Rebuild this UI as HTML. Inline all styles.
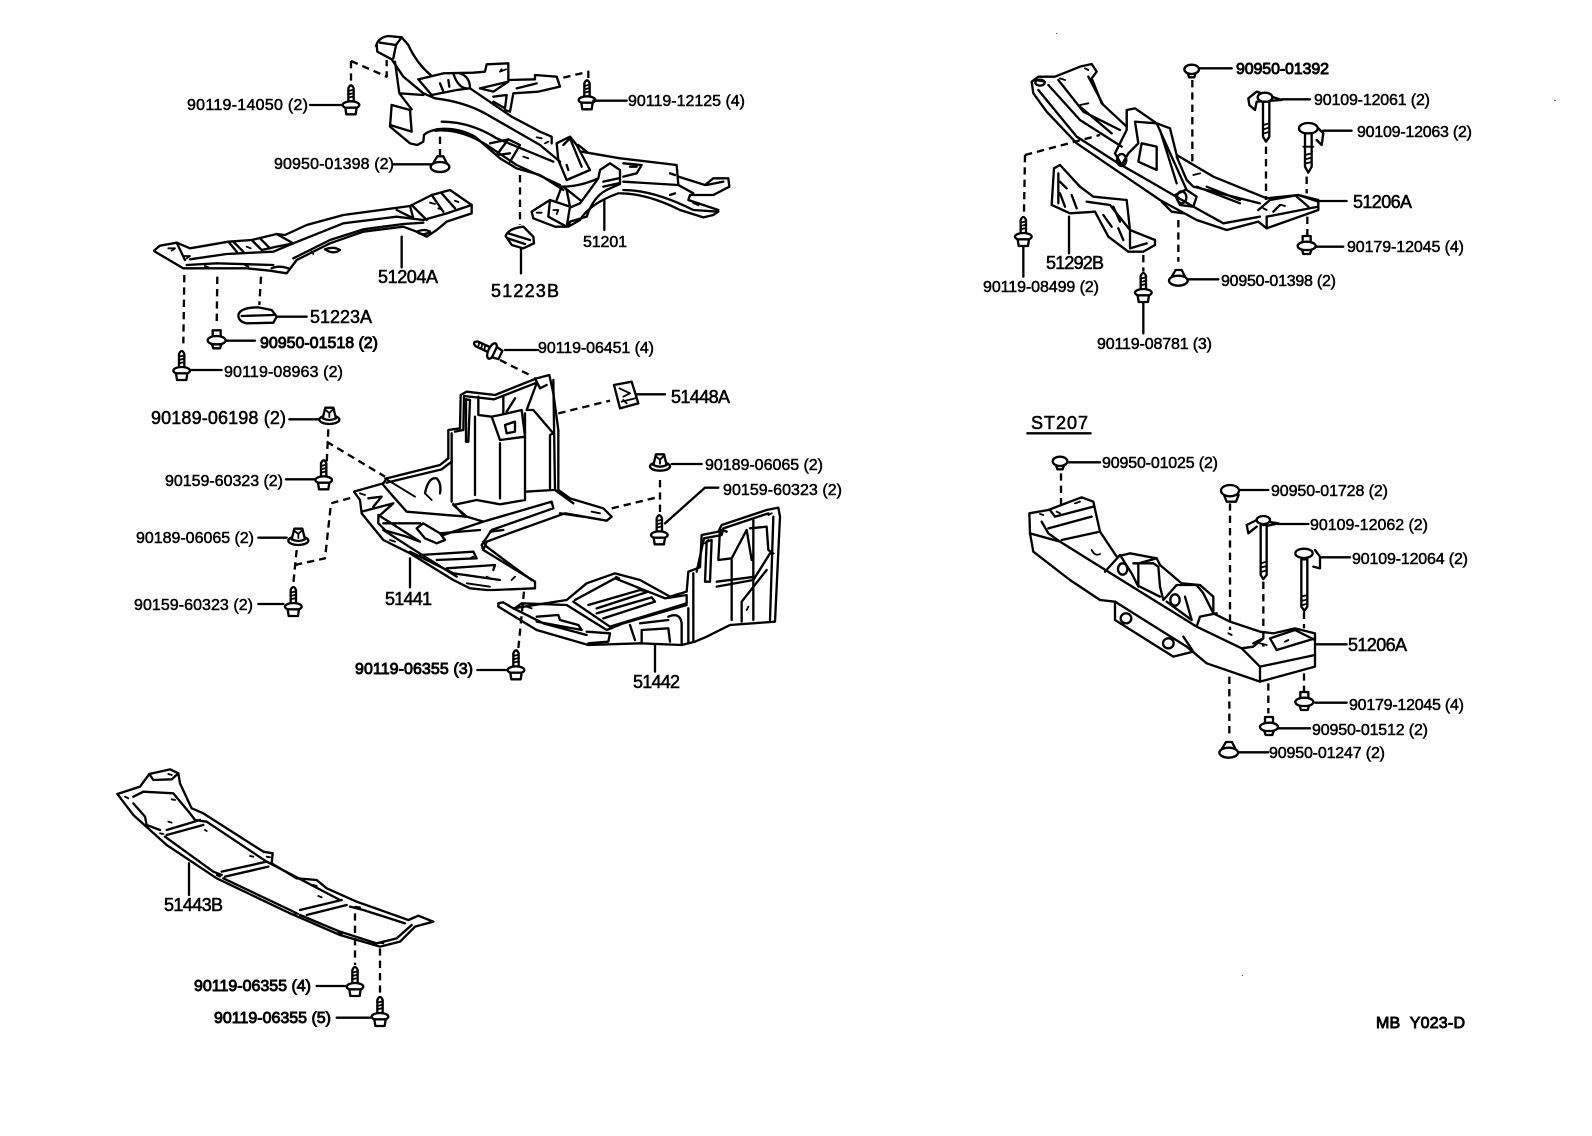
<!DOCTYPE html>
<html><head><meta charset="utf-8"><style>
html,body{margin:0;padding:0;background:#fff}
svg{display:block}
.l{fill:none;stroke:#000;stroke-width:7;stroke-linejoin:round;stroke-linecap:round}
.w{fill:#fff;stroke:#000;stroke-width:7;stroke-linejoin:round;stroke-linecap:round}
.t{fill:none;stroke:#000;stroke-width:5.5;stroke-linejoin:round;stroke-linecap:round}
.d{fill:none;stroke:#000;stroke-width:7;stroke-dasharray:22 15;stroke-linejoin:round}
text{font-family:"Liberation Sans",sans-serif;font-size:16px;fill:#000;stroke:#000;stroke-width:.5}
.b{stroke-width:.9}
.m{font-size:18px;stroke-width:.55}
</style></head><body>
<svg xmlns="http://www.w3.org/2000/svg" width="1592" height="1136" viewBox="0 0 1592 1136">
<rect width="1592" height="1136" fill="#fff"/>
<defs>
<g id="bolt"><path class="w" d="M-8 -8 L-8 -50 Q0 -68 8 -50 L8 -8Z"/><path class="t" d="M-8 -42 L8 -46 M-8 -32 L8 -36 M-8 -22 L8 -26"/><ellipse class="w" cx="0" cy="0" rx="25" ry="11"/><path class="w" d="M-17 8 L-14 28 L14 28 L17 8Z"/></g>
<g id="nut"><ellipse class="w" cx="0" cy="14" rx="30" ry="13"/><path class="w" d="M-20 10 L-12 -22 L12 -22 L20 10 Q0 20 -20 10Z"/><path class="t" d="M-10 -14 L0 -6 L10 -16 M0 -6 L0 6"/></g>
<g id="plug"><path class="w" d="M-13 14 L-8 30 L8 30 L13 14Z"/><ellipse class="w" cx="0" cy="6" rx="22" ry="14"/></g>
<g id="cap"><path class="w" d="M-20 -6 L-8 -26 L10 -26 L20 -6 Q0 8 -20 -6Z"/><ellipse class="w" cx="0" cy="6" rx="28" ry="15"/></g>
<g id="stud"><path class="w" d="M-12 -24 L12 -24 L12 0 L-12 0Z"/><ellipse class="w" cx="0" cy="6" rx="27" ry="13"/><path class="w" d="M-14 18 L14 18 L10 30 L-10 30Z"/></g>
</defs>

<!-- 51201 crossmember -->
<g transform="translate(360,30) scale(.33333)">
<path class="l" d="M48 48 Q55 22 85 18 L125 22 L145 45 Q170 100 212 135"/>
<path class="l" d="M50 45 L52 65 L95 88 L130 140 L190 190 L225 205"/>
<path class="l" d="M60 38 L108 45 L125 22 M108 45 L100 85 M105 95 L118 190 L190 195 M118 190 L155 238"/>
<path class="l" d="M95 225 L90 290 L150 340 L172 345 L190 335 L192 315 Q200 305 230 298 Q290 290 345 320 L420 385 L470 415 L540 435 L610 480"/>
<path class="l" d="M95 225 L150 240 L155 305 L90 285"/>
<path class="l" d="M245 275 Q330 275 410 325 L580 395 M225 302 Q300 295 380 345 L470 405 L600 465"/>
<path class="l" d="M225 205 Q310 215 375 250 L540 345 L600 395"/>
<path class="l" d="M390 340 L445 328 L480 345 M450 370 L410 375 M445 328 L410 375 M480 345 L450 395"/>
<path class="l" d="M175 148 L250 130 L340 128 L375 125 L380 103 L445 100 L445 150 L525 148 L525 135 L590 140 L600 170 L535 185 L460 190 L450 245 L435 240"/>
<path class="l" d="M175 148 L215 195 L290 180 L330 175 M280 130 Q295 180 330 175 M300 130 Q330 140 330 175 M330 175 L455 260 L540 305 L575 320 L575 340"/>
<path class="l" d="M360 175 L445 155 L400 185 L360 175 M400 200 L440 195 L435 235 L400 215 M470 175 L530 160 M240 160 L250 185 M265 150 L268 170"/>
<path class="t" d="M530 322 L545 325 M565 335 L555 340 M490 380 L505 385 M425 118 L420 125 L438 118"/>
<path class="l" d="M590 340 L630 320 L650 345 L690 420 L620 450 L595 390 Z M610 345 L630 325 L665 410 M620 405 L625 420"/>
<path class="l" d="M665 365 L780 385 L950 405 L955 465 L790 455 M655 345 L680 365"/>
<path class="l" d="M790 400 L845 405 L830 430 L790 440 M930 430 L945 435 M810 410 L830 410"/>
<path class="l" d="M790 480 Q880 480 1000 540 L1075 545 L1060 555 L1030 562 L960 540 Q860 490 780 490"/>
<path class="l" d="M955 440 L1035 465 L1060 445 L1105 445 L1108 470 L1060 495 L990 495 L985 510 L1075 540 M955 465 L1000 490 M1040 465 L1090 455 M930 495 L945 490 M1000 518 L1015 525"/>
<path class="w" d="M720 420 L750 400 L780 420 L780 462 L740 480 Q700 500 680 560 L630 575 L625 590 L660 570 Q690 520 775 490 M720 420 L715 445 Q660 470 605 470 M715 445 Q690 480 660 520 L625 535 M730 455 L775 445 M730 470 L775 460"/>
<path class="w" d="M515 545 L570 510 L630 530 L620 590 L585 590 L520 565 Z"/>
<path class="l" d="M570 510 L565 560 L620 590 M605 470 L590 510 M610 470 L660 510 M620 480 L630 530"/>
<path class="t" d="M580 540 L595 540 L590 552 M530 548 L545 548"/>
<use href="#bolt" transform="translate(681,210)"/>
<path class="l" d="M700 212 L800 212"/>
<path class="l" d="M100 403 L215 403"/>
<use href="#cap" transform="translate(240,405)"/>
<path class="d" d="M240 320 L240 375 M480 435 L480 585"/>
<path class="d" d="M610 143 L685 125 L685 150"/>
<path class="l" d="M733 510 L733 600"/>
<path class="w" d="M437 618 Q445 595 490 590 L520 620 L522 640 L490 655 L455 645 Z"/>
<path class="l" d="M445 610 L510 630 M443 625 L495 642"/>
<path class="l" d="M483 655 L483 730"/>
</g>
<path class="d" transform="translate(360,30) scale(.33333)" d="M-27 93 L80 140 L80 90 M-27 93 L-27 155"/>
<use href="#bolt" transform="translate(351,105) scale(.33333)"/>
<path class="l" transform="scale(.33333)" d="M930 315 L1028 315"/>

<!-- 51204A -->
<g transform="translate(130,180) scale(.33333)">
<path class="l" d="M72 212 L90 197 L140 188 L180 205 L295 185 L365 180 L440 162 L465 165 L530 135 L640 105 L840 78 L905 45 L960 30 L1025 75 L1025 100 L950 125 L920 150 L890 170 L860 155 L820 140 L700 155 L600 190 L500 240 L470 280 L420 272 L350 265 L160 265 L75 215Z"/>
<path class="l" d="M180 238 L290 222 L430 215 L490 190 L640 130 L800 110 L880 120 L950 100 L1025 75 M170 255 L260 250 L430 255 M490 235 L600 180 L700 148 L820 132 L880 128"/>
<path class="l" d="M295 185 L320 215 M310 185 L340 215 M365 180 L395 210 L440 200 L490 190 M440 162 L490 190 M390 175 L420 205 M800 90 L850 115 L840 78 M845 75 L890 120 M905 45 L940 95 M935 40 L975 85 M140 188 L165 240"/>
<path class="t" d="M115 205 L135 205 L125 212 M160 228 L180 228 L170 235 M350 200 L362 205 M900 68 L915 72 M925 85 L935 88 M975 62 L985 66 M225 258 L235 262 M345 255 L355 260 M545 215 L550 222"/>
<path class="l" d="M425 265 Q445 255 475 265 M585 208 Q610 198 630 210 Q610 225 585 208 M860 155 Q885 145 900 155 Q880 170 860 155"/>
<path class="l" d="M815 170 L815 262 M440 410 L530 410 M185 570 L275 570 M290 482 L375 482"/>
<path class="d" d="M163 285 L160 490 M262 290 L260 435 M393 290 L388 375"/>
<path class="w" d="M325 405 Q330 382 385 382 L425 390 L440 410 L430 428 L350 430 Q325 425 325 405Z"/>
<path class="l" d="M335 408 L430 405"/>
<use href="#stud" transform="translate(260,475)"/>
<use href="#bolt" transform="translate(155,572)"/>
</g>

<!-- left fasteners 51441 -->
<g transform="translate(130,400) scale(.33333)">
<use href="#nut" transform="translate(598,45)"/>
<path class="l" d="M478 58 L565 58 M468 238 L555 238 M385 413 L470 413 M385 612 L460 612"/>
<path class="d" d="M595 88 L590 190 M590 125 L765 230 M500 450 L490 550 M495 495 L585 475 L603 310 L675 290"/>
<use href="#bolt" transform="translate(581,240)"/>
<use href="#nut" transform="translate(505,408)"/>
<use href="#bolt" transform="translate(490,620)"/>
</g>

<!-- 51441 + 51442 -->
<g transform="translate(340,360) scale(.33333)">
<path class="l" d="M42 395 L130 370 L140 355 L300 315 L325 295 L325 210 L360 205 L362 105 L380 95 L465 105 L590 55 L628 45 L640 100 L655 210 L655 390 L690 415 L790 445 L815 470 L800 482 L675 460 L480 530 L440 545 L430 570 L585 665 L585 685 L460 690 L440 690 L390 685 L340 660 L210 580 L130 540 L65 460 L60 420 Z"/>
<path class="l" d="M335 220 L335 425 M378 118 L378 245 L385 245 L390 120 Z M415 110 L415 165 L455 170 L480 240 L555 230 L545 150 L480 165 L455 170 M490 110 L490 160 M525 115 L500 155 M588 75 L560 150 L580 150 L640 220 L630 225 L630 385 M405 170 L405 405 M480 250 L480 415 M555 160 L555 385"/>
<path class="l" d="M495 195 L525 185 L525 215 L500 220 Z M640 60 L645 390 L700 430 M585 55 L600 85 L620 75"/>
<path class="l" d="M140 368 L305 328 L335 305 M345 215 L370 210 L372 108 L462 118 L590 68 M130 510 L215 565 L350 650"/>
<path class="l" d="M555 385 L555 420 L480 433 L410 420 L340 435 L380 470 L200 455 L160 410 L130 375 M640 390 L555 395 M340 432 L375 470 M380 470 L430 485 L635 425 L640 445 L455 510 L425 555 L430 570 M300 520 L420 510 M310 525 L430 485 M450 515 L490 510 M430 545 L440 560 L520 620 L575 660 M660 460 L730 470"/>
<path class="l" d="M230 505 L250 490 L300 520 L315 540 L290 550 L255 535 Z M130 490 L240 490 M130 510 L200 530 L240 545 L115 465 M240 585 L400 575 L410 595 L290 600 M320 625 L465 615 L460 630 M65 455 L160 430 L115 470 L115 490 L135 510 M85 415 L125 410 L100 440 M255 400 Q265 350 290 355 Q305 370 300 400 M210 575 L340 640 L480 660"/>
<path class="t" d="M135 355 L225 410 M255 400 L275 420 M755 455 L780 460 M515 660 L525 650 M440 650 L450 655 M390 595 L400 590 M60 400 L75 405 M150 540 L165 545 M380 670 L450 680"/>
<path class="l" d="M822 75 L875 65 L895 130 L840 145 Z"/>
<path class="t" d="M838 85 L870 100 L850 110 M845 125 L885 115 M860 130 L850 120"/>
<path class="l" d="M890 103 L975 103 M210 595 L210 682 M995 312 L1085 312 M975 490 L1095 383 L1135 383 M945 855 L945 935 M412 930 L505 930"/>
<path class="d" d="M655 160 L810 122 M815 445 L960 410 M960 360 L960 470 M552 695 L535 865 M480 0 L575 48"/>
<use href="#nut" transform="translate(960,305)"/>
<use href="#bolt" transform="translate(958,525)"/>
<use href="#bolt" transform="translate(528,930)"/>
<path class="l" d="M475 730 L490 727 L520 745 L680 720 L740 670 L825 640 L900 660 L990 710 L1040 695 L1045 635 L1080 622 L1085 525 L1135 515 L1145 495 L1280 450 L1315 443 L1320 470 L1305 785 L1170 795 L1100 830 L1065 845 L1025 855 L900 850 L745 855 L590 810 L475 740Z"/>
<path class="l" d="M1060 640 L1060 845 M1100 545 L1095 665 L1110 665 L1115 540Z M1140 510 L1135 600 L1175 595 L1220 510 L1235 600 M1130 680 L1240 660 L1290 580 M1130 665 L1245 650 M1175 600 L1175 780 M1205 725 L1280 630 M1205 725 L1205 785 M1240 480 L1240 780 M1300 470 L1290 780 M1230 505 L1280 500 L1285 570 L1300 580 M1070 635 L1092 535 L1145 525 L1150 505 L1285 460"/>
<path class="l" d="M705 720 L825 655 L975 715 L1040 705 L1040 730 L810 800 L700 725 M745 735 L900 690 L925 695 L770 745 M770 760 L935 712 L945 725 L790 775 M525 745 L545 730 L680 735 L800 810 L850 790 L1040 735 M590 770 L655 765 L660 780 L715 795 L725 810 L590 785 M520 745 L610 790 L740 825 M740 815 L810 820 L805 845 L745 850 M870 795 L885 840 M905 810 L905 848 M905 810 L985 805 L990 845 M985 770 Q1020 755 1025 790 L1025 855 M900 790 L985 780 M1045 745 L1045 845 M1145 510 L1160 515"/>
<path class="t" d="M1295 460 L1285 465 M1105 540 L1095 550 M1225 740 L1220 750 M828 650 L838 655 M560 740 L575 745"/>
</g>
<g transform="translate(492,351) rotate(-65) scale(.33333)"><use href="#bolt"/></g>
<path class="l" transform="scale(.33333)" d="M1515 1050 L1615 1050"/>

<!-- 51443B -->
<g transform="translate(100,750) scale(.33333)">
<path class="l" d="M52 132 L120 110 L148 72 L210 58 L235 70 L240 100 L275 175 L310 190 L490 305 L518 310 L515 340 L590 385 L650 390 L680 415 L770 455 L925 510 L955 497 L1000 515 L945 530 L900 575 L840 590 L720 555 L570 490 L350 385 L200 285 L100 195 Z"/>
<path class="l" d="M100 140 L130 125 L220 130 L270 190 L285 210 L320 215 L500 335 L510 340 L720 450 M100 160 L135 200 L140 225 L180 240 M200 240 L300 210 M200 255 L310 225 M195 260 L340 365 L365 375 M365 365 L500 335 M375 380 L505 350 M370 385 L570 480 L590 490 M600 480 L725 450 M620 495 L740 465 M600 495 L720 545 L830 580 L890 565 L935 525 M750 470 L790 480 L915 520 M148 72 L160 90 L215 88 L235 70"/>
<path class="t" d="M205 72 L215 75 M215 148 L225 150 M205 215 L215 218 M315 240 L320 243 M450 318 L460 320 M640 405 L650 408 M655 438 L665 442 M765 470 L780 472 M715 548 L725 552 M840 578 L850 580 M75 140 L85 145 M350 375 L360 380 M180 250 L190 252 M500 320 L510 322 M585 490 L595 492"/>
<path class="l" d="M267 340 L267 435 M650 708 L735 708 M710 803 L812 803"/>
<path class="d" d="M765 490 L765 645 M840 595 L840 740"/>
<use href="#bolt" transform="translate(765,710)"/>
<use href="#bolt" transform="translate(840,800)"/>
</g>

<!-- upper right 51206A -->
<g transform="translate(980,40) scale(.33333)">
<path class="l" d="M155 125 L175 110 L225 110 L300 80 L335 72 L350 95 L335 115 L365 190 L440 260 L440 210 L465 205 L530 250 L570 265 L590 345 L700 410 L860 475 L955 465 L1015 480 L1015 510 L860 565 L835 545 L740 570 L650 540 L540 480 L400 385 L290 310 L200 215 L160 160 Z"/>
<path class="l" d="M175 150 L290 290 L415 370 L520 430 L640 500 L730 550 L840 530 M205 135 L300 240 L425 320 M235 120 L310 215 L420 270 M300 200 L395 280 M325 110 L370 195 M405 340 L440 270 L440 210 M405 340 L425 375 L445 340 L475 310 L465 245 L530 250 L620 450 L650 470 L640 500 L600 495 L585 465 L615 450 M485 310 L530 320 L530 390 L475 365 L485 310 M540 270 L590 430 M590 350 L620 420 L640 440 L840 490 M650 440 L780 490 M680 440 L780 480 M835 510 L870 480 L955 465 L1015 485 M860 530 L1015 500 M860 530 L860 565 M900 495 L880 515 M950 470 L985 500 M545 485 L575 515 L610 520"/>
<ellipse class="l" cx="425" cy="360" rx="14" ry="18"/><ellipse class="l" cx="605" cy="472" rx="14" ry="18"/><ellipse class="l" cx="180" cy="128" rx="14" ry="9"/>
<path class="t" d="M300 195 L325 190 M175 122 L195 125 M240 115 L255 120 M315 85 L325 90 M640 405 L660 400 M905 495 L915 498 M850 505 L860 510"/>
<path class="l" d="M222 385 L240 375 L300 440 L340 470 L440 480 L450 570 L525 600 L525 615 L490 635 L445 635 L385 590 L345 515 L270 520 L215 495 Z M235 400 L235 490 M320 485 L390 495 L450 570 M450 570 L450 625 L500 610 M240 460 L255 500 M275 465 L290 505 M400 500 L420 545 M370 525 L395 560 M415 565 L430 600 M240 425 L260 445"/>
<path class="l" d="M660 85 L755 85 M905 178 L990 178 M1030 272 L1115 272 M1015 483 L1100 483 M1010 620 L1090 620 M625 718 L715 718 M267 530 L267 640 M130 620 L130 710 M490 790 L490 880"/>
<path class="d" d="M637 120 L637 370 M858 320 L858 480 M980 410 L980 460 M982 530 L982 590 M135 345 L360 285 M135 345 L132 515 M595 540 L595 665 M490 645 L490 695"/>
<use href="#plug" transform="translate(635,82)"/>
<path class="l" d="M805 175 L830 155 L905 180 L830 185 L825 210 L808 195 Z"/>
<ellipse class="w" cx="855" cy="172" rx="22" ry="14"/>
<path class="w" d="M849 185 L849 290 L858 305 L868 290 L868 185Z"/><path class="t" d="M850 255 L867 250 M850 268 L867 263 M850 281 L867 276"/>
<path class="l" d="M1010 260 L1030 280 L1025 315 L1010 300"/>
<ellipse class="w" cx="985" cy="265" rx="28" ry="16"/>
<path class="w" d="M975 280 L975 380 L985 398 L995 380 L995 280Z"/><path class="t" d="M975 345 L995 340 M975 358 L995 353 M975 371 L995 366 M970 320 L1000 320"/>
<use href="#stud" transform="translate(980,612)"/>
<use href="#cap" transform="translate(595,716)"/>
<use href="#bolt" transform="translate(130,590)"/>
<use href="#bolt" transform="translate(490,758)"/>
</g>

<!-- ST207 -->
<g transform="translate(1000,400) scale(.33333)">
<path class="l" d="M82 100 L272 100"/>
<path class="l" d="M88 340 L145 330 L210 305 L245 292 L280 305 L300 395 L350 470 L390 460 L470 475 L480 495 L545 550 L600 555 L640 590 L640 640 L690 665 L780 695 L820 700 L885 685 L945 700 L945 800 L780 845 L620 790 L560 740 L345 605 L300 600 L210 540 L100 455 L90 400 Z"/>
<path class="l" d="M90 400 L180 425 L300 500 L590 680 L725 745 L780 800 L780 845 M780 800 L945 765 M125 365 L145 400 L180 425 M145 385 L275 350 M185 420 L300 395 M150 330 L165 350 L280 320 M315 515 L360 465 L395 520 L415 560 L415 490 L470 475 M400 490 L460 490 L475 500 L480 560 L490 600 L530 555 L590 555 L610 580 L640 640 M500 605 L575 660 L555 590 M420 560 L480 590 M590 680 L600 650 L650 640 M810 715 L885 690 L945 720 M810 715 L830 750 L945 715 M345 605 L345 660 L520 770 L580 755 L550 710 M725 745 L760 740 L790 715 L760 730"/>
<ellipse class="l" cx="368" cy="507" rx="14" ry="17"/><ellipse class="l" cx="525" cy="600" rx="14" ry="17"/><ellipse class="l" cx="378" cy="655" rx="16" ry="15"/><ellipse class="l" cx="505" cy="730" rx="16" ry="15"/>
<path class="t" d="M275 450 Q285 470 300 462 M120 342 L130 345 M170 335 L180 340 M225 310 L240 305 M685 700 L695 705 M855 725 L865 720 M905 700 L915 705 M780 730 L800 735"/>
<path class="l" d="M205 187 L300 187 M720 270 L805 270 M835 372 L925 372 M960 472 L1050 472 M950 733 L1040 733 M945 908 L1040 908 M835 985 L930 985 M715 1057 L805 1057"/>
<path class="d" d="M183 220 L183 320 M690 310 L690 690 M688 830 L688 1005 M790 545 L790 740 M912 635 L912 685 M912 820 L912 880 M805 850 L805 940"/>
<use href="#plug" transform="translate(180,178)"/>
<path class="w" d="M672 285 L680 305 L708 305 L716 285Z"/><ellipse class="w" cx="690" cy="272" rx="27" ry="17"/>
<path class="l" d="M740 375 L770 360 L835 370 L790 380 M740 375 L745 400 L770 380"/>
<ellipse class="w" cx="790" cy="360" rx="20" ry="12"/>
<path class="w" d="M782 375 L782 525 L790 537 L800 525 L800 375Z"/><path class="t" d="M782 490 L800 485 M782 503 L800 498 M782 516 L800 511"/>
<path class="l" d="M945 450 L960 470 L960 505 L940 500"/>
<ellipse class="w" cx="912" cy="460" rx="26" ry="14"/>
<path class="w" d="M904 478 L904 620 L913 632 L922 620 L922 478Z"/><path class="t" d="M904 590 L922 585 M904 603 L922 598 M904 616 L922 611"/>
<use href="#stud" transform="translate(913,900)"/>
<use href="#stud" transform="translate(807,975)"/>
<use href="#cap" transform="translate(686,1052)"/>
</g>

<!-- specks -->
<rect x="1554" y="100" width="2" height="1" fill="#555"/><rect x="1242" y="975" width="1" height="1" fill="#555"/><rect x="1056" y="33" width="1" height="1" fill="#555"/>

<!-- labels -->
<text x="187" y="110" textLength="121">90119-14050 (2)</text>
<text x="628" y="106" textLength="117">90119-12125 (4)</text>
<text x="274" y="169" textLength="120">90950-01398 (2)</text>
<text x="583" y="247" textLength="44">51201</text>
<text x="378" y="283" textLength="60" class="m">51204A</text>
<text x="491" y="297" textLength="68" class="m b">51223B</text>
<text x="310" y="323" textLength="62" class="m">51223A</text>
<text x="260" y="348" textLength="118" class="b">90950-01518 (2)</text>
<text x="538" y="353" textLength="116">90119-06451 (4)</text>
<text x="224" y="377" textLength="119">90119-08963 (2)</text>
<text x="671" y="403" textLength="59" class="m">51448A</text>
<text x="151" y="424" textLength="135" class="m b">90189-06198 (2)</text>
<text x="705" y="470" textLength="118">90189-06065 (2)</text>
<text x="165" y="486" textLength="118">90159-60323 (2)</text>
<text x="723" y="495" textLength="119">90159-60323 (2)</text>
<text x="136" y="543" textLength="118">90189-06065 (2)</text>
<text x="385" y="605" textLength="47" class="m">51441</text>
<text x="134" y="610" textLength="119">90159-60323 (2)</text>
<text x="355" y="674" textLength="118" class="b">90119-06355 (3)</text>
<text x="633" y="688" textLength="47" class="m">51442</text>
<text x="164" y="911" textLength="59" class="m">51443B</text>
<text x="194" y="991" textLength="117" class="b">90119-06355 (4)</text>
<text x="214" y="1023" textLength="117" class="b">90119-06355 (5)</text>
<text x="1236" y="74" textLength="93" class="b">90950-01392</text>
<text x="1314" y="105" textLength="116">90109-12061 (2)</text>
<text x="1357" y="137" textLength="115">90109-12063 (2)</text>
<text x="1353" y="208" textLength="59" class="m">51206A</text>
<text x="1347" y="252" textLength="117">90179-12045 (4)</text>
<text x="1046" y="269" textLength="58" class="m">51292B</text>
<text x="1221" y="286" textLength="115">90950-01398 (2)</text>
<text x="983" y="292" textLength="116">90119-08499 (2)</text>
<text x="1097" y="349" textLength="115">90119-08781 (3)</text>
<text x="1031" y="429" textLength="57" class="m">ST207</text>
<text x="1102" y="468" textLength="116">90950-01025 (2)</text>
<text x="1271" y="496" textLength="117">90950-01728 (2)</text>
<text x="1310" y="530" textLength="118">90109-12062 (2)</text>
<text x="1352" y="564" textLength="116">90109-12064 (2)</text>
<text x="1348" y="651" textLength="59" class="m">51206A</text>
<text x="1349" y="710" textLength="115">90179-12045 (4)</text>
<text x="1312" y="735" textLength="116">90950-01512 (2)</text>
<text x="1269" y="758" textLength="116">90950-01247 (2)</text>
<text x="1376" y="1028" textLength="89" class="b">MB&#160;&#160;Y023-D</text>
</svg>
</body></html>
